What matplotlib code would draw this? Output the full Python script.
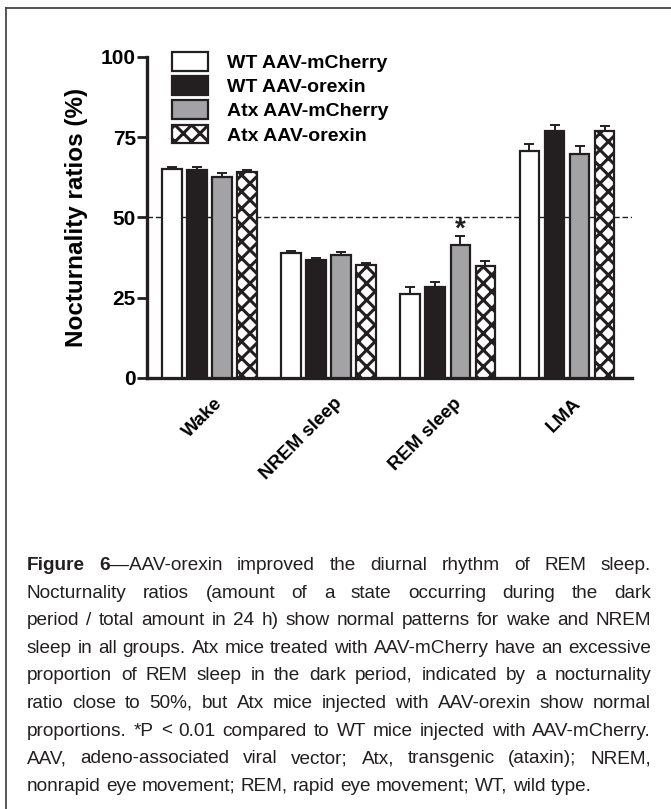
import matplotlib
matplotlib.use('Agg')
import matplotlib.pyplot as plt
import numpy as np
from matplotlib import font_manager
from matplotlib.lines import Line2D

# nocturnality ratios (%)
states = ['Wake', 'NREM sleep', 'REM sleep', 'LMA']
groups = ['WT AAV-mCherry', 'WT AAV-orexin', 'Atx AAV-mCherry', 'Atx AAV-orexin']
wt_mcherry = [65.2, 39.0, 26.3, 70.6]
wt_mcherry_err = [0.5, 0.5, 2.1, 2.4]
wt_orexin = [64.8, 36.9, 28.4, 77.0]
wt_orexin_err = [0.8, 0.6, 1.6, 1.9]
atx_mcherry = [62.7, 38.2, 41.5, 69.7]
atx_mcherry_err = [1.1, 1.1, 2.7, 2.7]
atx_orexin = [64.2, 35.1, 34.9, 76.8]
atx_orexin_err = [0.5, 0.7, 1.6, 1.7]
sig_marks = [(2, 2)]  # (state index, group index) with *P < 0.01
chance_level = 50
yticks = [0, 25, 50, 75, 100]

caption_lines = [
    "Figure 6\u2014AAV-orexin improved the diurnal rhythm of REM sleep.",
    "Nocturnality ratios (amount of a state occurring during the dark",
    "period / total amount in 24 h) show normal patterns for wake and NREM",
    "sleep in all groups. Atx mice treated with AAV-mCherry have an excessive",
    "proportion of REM sleep in the dark period, indicated by a nocturnality",
    "ratio close to 50%, but Atx mice injected with AAV-orexin show normal",
    "proportions. *P < 0.01 compared to WT mice injected with AAV-mCherry.",
    "AAV, adeno-associated viral vector; Atx, transgenic (ataxin); NREM,",
    "nonrapid eye movement; REM, rapid eye movement; WT, wild type.",
]
caption_bold = "Figure 6"

W, H = 671, 809
plt.rcParams['font.family'] = ['Liberation Sans', 'DejaVu Sans']
plt.rcParams['hatch.linewidth'] = 2.2
plt.rcParams['hatch.color'] = '#231f20'

fig = plt.figure(figsize=(W / 100, H / 100), dpi=100)
ax = fig.add_axes([147 / W, (H - 378) / H, (632 - 147) / W, (378 - 57) / H])

values = [wt_mcherry, wt_orexin, atx_mcherry, atx_orexin]
errors = [wt_mcherry_err, wt_orexin_err, atx_mcherry_err, atx_orexin_err]
faces = ['white', '#231f20', '#a3a3a6', 'white']
hatches = [None, None, None, 'xx']
dark = '#231f20'

x = np.arange(len(states))
pitch = 0.21
width = 0.165
handles = []
for i in range(4):
    pos = x + (i - 1.5) * pitch
    vals = np.array(values[i])
    errs = np.array(errors[i])
    b = ax.bar(pos, vals, width, color=faces[i], edgecolor=dark, linewidth=1.6,
               hatch=hatches[i], zorder=3, label=groups[i])
    ax.errorbar(pos, vals, yerr=[np.zeros_like(errs), errs], fmt='none',
                ecolor=dark, elinewidth=1.4, capsize=3.5, capthick=1.4, zorder=2)
    handles.append(b)

for s, g in sig_marks:
    xs = x[s] + (g - 1.5) * pitch
    ax.text(xs, values[g][s] + errors[g][s] - 1.9, '*', ha='center', va='bottom',
            fontsize=20, fontweight='bold', color=dark)

ax.set_xlim(-0.524, 3.545)
ax.set_ylim(0, 100)
ax.axhline(chance_level, color=dark, lw=1.0, ls=(0, (4, 2)), zorder=1)

for side in ['top', 'right']:
    ax.spines[side].set_visible(False)
for side in ['left', 'bottom']:
    ax.spines[side].set_linewidth(2.4)
    ax.spines[side].set_color(dark)

ax.set_yticks(yticks)
ax.set_yticklabels([str(t) for t in yticks], fontsize=15, fontweight='bold')
ax.tick_params(axis='y', length=7, width=2, color=dark, pad=1)
ax.set_xticks(x + 0.04)
ax.set_xticklabels(states, rotation=45, ha='right', rotation_mode='anchor',
                   fontsize=13.5, fontweight='bold')
ax.tick_params(axis='x', length=0, pad=12)
ax.set_ylabel('Nocturnality ratios (%)', fontsize=17.5, fontweight='bold', labelpad=9)

fig.legend(handles=handles, labels=groups, loc='upper left',
           bbox_to_anchor=(172 / W, 1 - 52 / H), bbox_transform=fig.transFigure,
           frameon=False, borderpad=0, borderaxespad=0,
           prop={'weight': 'bold', 'size': 14}, handlelength=1.85, handleheight=1.1,
           labelspacing=0.22, handletextpad=1.0)

# frame lines of the figure panel (top and left only show)
fig.add_artist(Line2D([6 / W, 6 / W], [0, 1 - 8 / H], color='#3a3a3a', lw=1.2))
fig.add_artist(Line2D([6 / W, 1], [1 - 8 / H, 1 - 8 / H], color='#3a3a3a', lw=1.2))

# justified caption
try:
    font_manager.findfont('Liberation Sans Narrow', fallback_to_default=False)
    cap_family = 'Liberation Sans Narrow'
except ValueError:
    cap_family = 'Liberation Sans'

fig.canvas.draw()
rend = fig.canvas.get_renderer()


def text_width(s, size, weight='normal'):
    t = fig.text(0, 0, s, fontsize=size, family=cap_family, fontweight=weight)
    w = t.get_window_extent(rend).width
    t.remove()
    return w


left_px, right_px = 27, 651
base = 10
cap_size = base * (right_px - left_px) / text_width(caption_lines[3], base)
space_w = text_width('a b', cap_size) - text_width('ab', cap_size)

y0, dy = 570, 27.6
for li, line in enumerate(caption_lines):
    words = []
    idx = 0
    for wd in line.split(' '):
        start = line.index(wd, idx)
        idx = start + len(wd)
        nb = max(0, min(len(wd), len(caption_bold) - start)) if li == 0 else 0
        segs = []
        if nb > 0:
            segs.append((wd[:nb], 'bold'))
        if nb < len(wd):
            segs.append((wd[nb:], 'normal'))
        words.append(segs)
    widths = [[text_width(s, cap_size, w) for s, w in segs] for segs in words]
    total = sum(sum(ws) for ws in widths)
    last = li == len(caption_lines) - 1
    gap = space_w if last else (right_px - left_px - total) / (len(words) - 1)
    xp = left_px
    yp = 1 - (y0 + li * dy) / H
    for segs, ws in zip(words, widths):
        for (s, w), sw in zip(segs, ws):
            fig.text(xp / W, yp, s, fontsize=cap_size, family=cap_family,
                     fontweight=w, color='#231f20', va='baseline', ha='left')
            xp += sw
        xp += gap

fig.savefig('out.png', dpi=100)
